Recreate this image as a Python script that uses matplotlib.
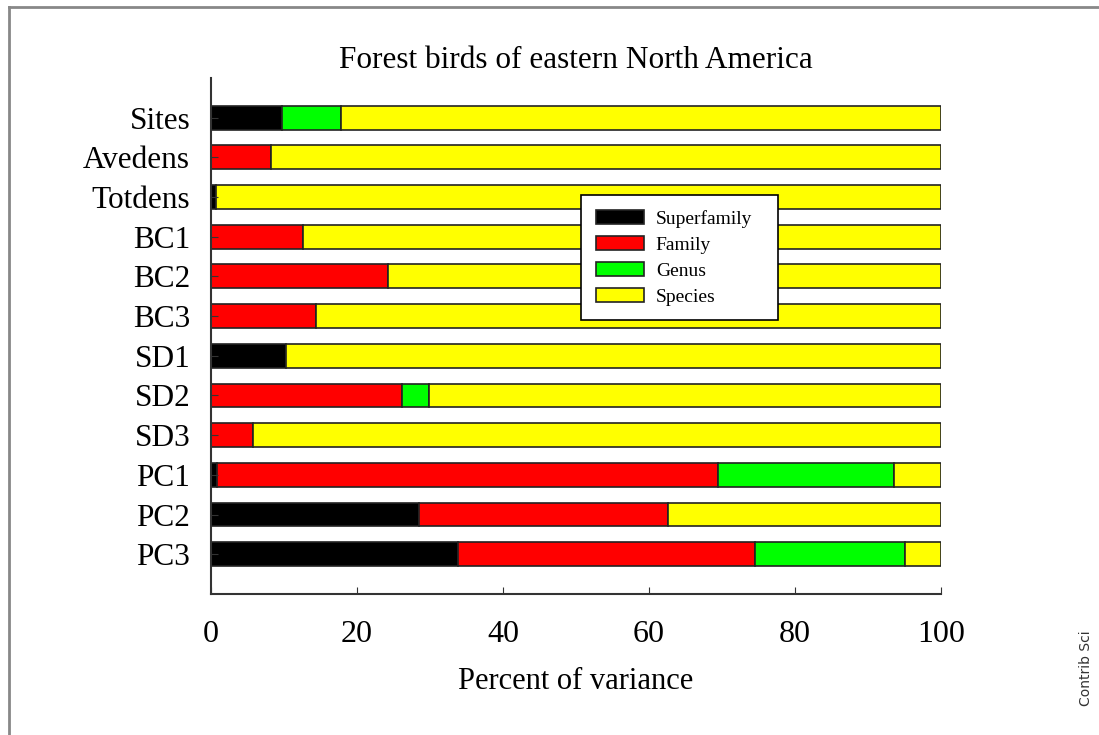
import matplotlib.pyplot as plt
from matplotlib.lines import Line2D

plt.rcParams['font.family'] = ['Liberation Serif', 'DejaVu Serif']

# Değişkenler (yukarıdan aşağıya)
categories = ['Sites', 'Avedens', 'Totdens', 'BC1', 'BC2', 'BC3',
              'SD1', 'SD2', 'SD3', 'PC1', 'PC2', 'PC3']
superfamily = [9.7, 0.0, 0.7, 0.0, 0.0, 0.0, 10.3, 0.0, 0.0, 0.8, 28.5, 33.8]
family = [0.0, 8.2, 0.0, 12.6, 24.2, 14.4, 0.0, 26.2, 5.8, 68.7, 34.1, 40.7]
genus = [8.1, 0.0, 0.0, 0.0, 0.0, 0.0, 0.0, 3.7, 0.0, 24.1, 0.0, 20.6]
species = [100 - s - f - g for s, f, g in zip(superfamily, family, genus)]

series = [('Superfamily', superfamily, '#000000'),
          ('Family', family, '#ff0000'),
          ('Genus', genus, '#00ff00'),
          ('Species', species, '#ffff00')]

fig = plt.figure(figsize=(10.99, 7.35), dpi=100)
ax = fig.add_axes([0.192, 0.192, 0.664, 0.702])

pos = list(range(len(categories) - 1, -1, -1))
left = [0.0] * len(categories)
for name, vals, col in series:
    ax.barh(pos, vals, left=left, height=0.6, color=col,
            edgecolor='#222222', linewidth=1.2, label=name)
    left = [a + b for a, b in zip(left, vals)]

ax.set_xlim(0, 100)
ax.set_ylim(-1, 12)
ax.set_yticks(pos)
ax.set_yticklabels(categories)
ax.set_xticks([0, 20, 40, 60, 80, 100])
ax.tick_params(axis='both', direction='in', length=5, color='#333333')
ax.tick_params(axis='y', pad=15, labelsize=22.5)
ax.tick_params(axis='x', pad=19, labelsize=23)
for s in ['top', 'right']:
    ax.spines[s].set_visible(False)
ax.spines['left'].set_color('#333333')
ax.spines['bottom'].set_color('#333333')
ax.spines['left'].set_linewidth(1.5)
ax.spines['bottom'].set_linewidth(1.5)

ax.set_xlabel('Percent of variance', fontsize=22, labelpad=13)
ax.set_title('Forest birds of eastern North America', fontsize=22.5, pad=7)

leg = ax.legend(loc='upper left', bbox_to_anchor=(0.507, 0.0, 0.27, 0.773),
                mode='expand', fontsize=14, fancybox=False, framealpha=1,
                edgecolor='black', handlelength=2.5, handleheight=0.8,
                borderpad=0.75, labelspacing=0.4, handletextpad=0.6,
                borderaxespad=0)
leg.get_frame().set_linewidth(1.2)

# çerçeve ve kaynak yazısı
fig.add_artist(Line2D([0.008, 1.0], [0.991, 0.991], color='#888888', lw=2,
                      transform=fig.transFigure))
fig.add_artist(Line2D([0.008, 0.008], [0.0, 0.991], color='#888888', lw=2,
                      transform=fig.transFigure))
fig.text(0.988, 0.04, 'Contrib Sci', rotation=90, fontsize=10,
         family='DejaVu Sans', color='#333333', ha='center', va='bottom')

fig.savefig('out.png', dpi=100)
